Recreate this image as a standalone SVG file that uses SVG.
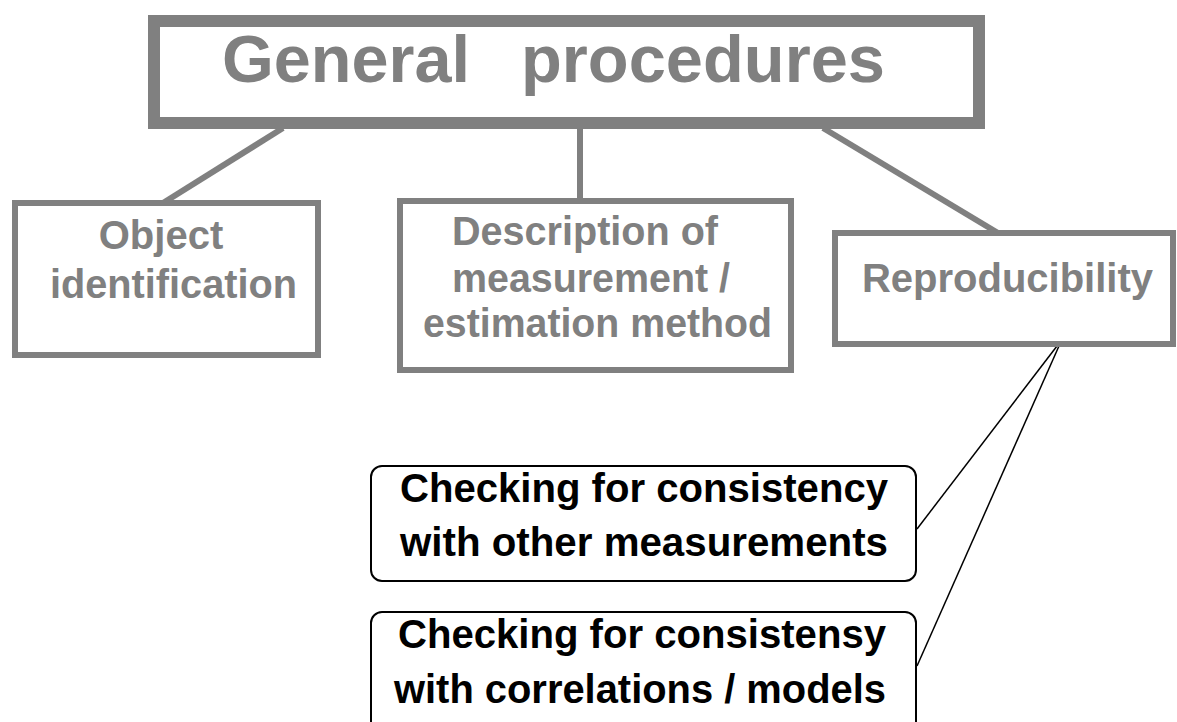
<svg xmlns="http://www.w3.org/2000/svg" width="1177" height="722" viewBox="0 0 1177 722">
<style>
.gbox{fill:#fff;stroke:#808080;stroke-width:6}
.gtxt{font-family:"Liberation Sans",Arial,sans-serif;font-weight:bold;fill:#808080;font-size:40px}
.btxt{font-family:"Liberation Sans",Arial,sans-serif;font-weight:bold;fill:#000;font-size:40px}
.bbox{fill:#fff;stroke:#000;stroke-width:2}
.gline{stroke:#808080;stroke-width:6;fill:none}
.bline{stroke:#000;stroke-width:1.5;fill:none}
</style>
<rect width="1177" height="722" fill="#fff"/>
<g id="connectors">
<line class="gline" x1="283" y1="128" x2="163" y2="203"/>
<line class="gline" x1="580" y1="128" x2="580" y2="201"/>
<line class="gline" x1="823" y1="128" x2="998" y2="233"/>
<line class="bline" x1="1057" y1="346" x2="917" y2="529"/>
<line class="bline" x1="1059" y1="346" x2="917" y2="666"/>
</g>
<g id="general">
<rect x="154" y="21" width="825" height="102" fill="#fff" stroke="#808080" stroke-width="12"/>
<text class="gtxt" x="222" y="82" style="font-size:67px" textLength="248" lengthAdjust="spacingAndGlyphs">General</text>
<text class="gtxt" x="521" y="82" style="font-size:67px" textLength="364" lengthAdjust="spacingAndGlyphs">procedures</text>
</g>
<g id="object">
<rect class="gbox" x="15" y="203" width="303" height="152"/>
<text class="gtxt" x="161" y="249" text-anchor="middle">Object</text>
<text class="gtxt" x="50" y="298" textLength="247" lengthAdjust="spacingAndGlyphs">identification</text>
</g>
<g id="description">
<rect class="gbox" x="400" y="201" width="391" height="169"/>
<text class="gtxt" x="452" y="245" textLength="266" lengthAdjust="spacingAndGlyphs">Description of</text>
<text class="gtxt" x="452" y="292" textLength="278" lengthAdjust="spacingAndGlyphs">measurement /</text>
<text class="gtxt" x="423" y="337" textLength="349" lengthAdjust="spacingAndGlyphs">estimation method</text>
</g>
<g id="reproducibility">
<rect class="gbox" x="835" y="233" width="338" height="111"/>
<text class="gtxt" x="862" y="292" textLength="291" lengthAdjust="spacingAndGlyphs">Reproducibility</text>
</g>
<g id="check1">
<rect class="bbox" x="371" y="466" width="545" height="115" rx="11"/>
<text class="btxt" x="400" y="502" textLength="488" lengthAdjust="spacingAndGlyphs">Checking for consistency</text>
<text class="btxt" x="400" y="556" textLength="488" lengthAdjust="spacingAndGlyphs">with other measurements</text>
</g>
<g id="check2">
<rect class="bbox" x="371" y="612" width="545" height="125" rx="11"/>
<text class="btxt" x="398" y="648" textLength="488" lengthAdjust="spacingAndGlyphs">Checking for consistensy</text>
<text class="btxt" x="394" y="703" textLength="492" lengthAdjust="spacingAndGlyphs">with correlations / models</text>
</g>
</svg>
